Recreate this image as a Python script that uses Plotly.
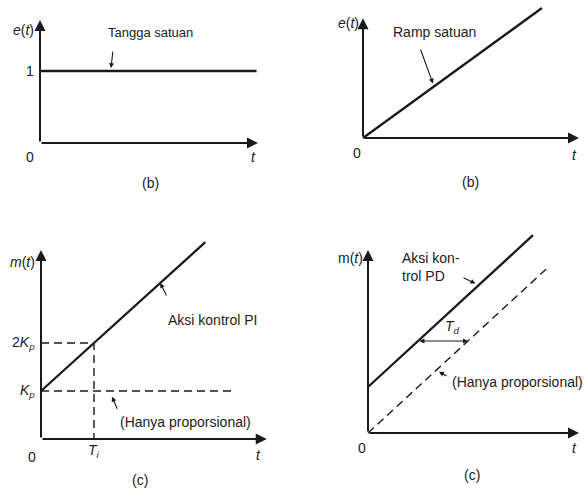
import plotly.graph_objects as go

W, H = 584, 490

# ---- data (Kp = 1, Ti = 1, Td = 1, unit step / unit ramp inputs) ----
step_t = [0, 4.33]
step_e = [1, 1]

ramp_t = [0, 3.58]
ramp_e = [0, 3.58]

pi_t = [0, 3.1]
pi_m = [1, 4.1]
pi_prop_t = [0, 3.6]
pi_prop_m = [1, 1]
ti_guide_t = [0, 1, 1]
ti_guide_m = [2, 2, 0]

pd_prop_t = [0, 3.58]
pd_prop_m = [0, 3.58]
pd_t = [0, 3.3]
pd_m = [1, 4.3]
td_level = 2.0

INK = "#1a1a1a"
TXT = "#222222"
FONT = "Liberation Sans"

# panel layout: pixel box, origin pixel, pixels per unit
panels = {
    1: dict(box=(0, 292, 0, 200), origin=(40, 143), unit=(50, 72)),
    2: dict(box=(292, 584, 0, 200), origin=(363, 138), unit=(50, 36.3)),
    3: dict(box=(0, 292, 200, 490), origin=(41, 439), unit=(53, 48)),
    4: dict(box=(292, 584, 200, 490), origin=(368, 433), unit=(50, 46)),
}

fig = go.Figure()

for k, p in panels.items():
    x0, x1, y0, y1 = p["box"]
    ox, oy = p["origin"]
    ux, uy = p["unit"]
    sfx = "" if k == 1 else str(k)
    fig.update_layout(**{
        "xaxis" + sfx: dict(domain=[x0 / W, x1 / W],
                            range=[(x0 - ox) / ux, (x1 - ox) / ux],
                            visible=False, fixedrange=True,
                            anchor="y" + sfx),
        "yaxis" + sfx: dict(domain=[1 - y1 / H, 1 - y0 / H],
                            range=[(oy - y1) / uy, (oy - y0) / uy],
                            visible=False, fixedrange=True,
                            anchor="x" + sfx),
    })


def ax_ref(k):
    return ("x", "y") if k == 1 else ("x%d" % k, "y%d" % k)


def line(k, t, v, width=2.3, dash=None):
    xr, yr = ax_ref(k)
    fig.add_trace(go.Scatter(x=t, y=v, mode="lines", xaxis=xr, yaxis=yr,
                             line=dict(color=INK, width=width, dash=dash),
                             showlegend=False, hoverinfo="skip",
                             cliponaxis=False))


annotations = []


def text(k, t, v, s, size=14, xanchor="center", yanchor="middle"):
    xr, yr = ax_ref(k)
    annotations.append(dict(x=t, y=v, xref=xr, yref=yr, text=s,
                            showarrow=False, xanchor=xanchor,
                            yanchor=yanchor, align="left",
                            font=dict(family=FONT, size=size, color=TXT)))


def arrow(k, head, tail, width=1.2, head_style=2, size=1.0, start=False):
    xr, yr = ax_ref(k)
    a = dict(x=head[0], y=head[1], ax=tail[0], ay=tail[1],
             xref=xr, yref=yr, axref=xr, ayref=yr, text="",
             showarrow=True, arrowhead=head_style, arrowsize=size,
             arrowwidth=width, arrowcolor=INK)
    if start:
        a.update(arrowside="end+start", startarrowhead=head_style,
                 startarrowsize=size)
    annotations.append(a)


def axes(k, t_end, v_end):
    arrow(k, (t_end, 0), (0, 0), width=2.0, head_style=2, size=1.1)
    arrow(k, (0, v_end), (0, 0), width=2.0, head_style=2, size=1.1)


# ---- (b) unit step ----
axes(1, 4.36, 1.71)
line(1, step_t, step_e)
text(1, -0.08, 1.57, "<i>e</i>(<i>t</i>)", xanchor="right")
text(1, -0.08, 1.0, "1", xanchor="right")
text(1, -0.2, -0.19, "0")
text(1, 4.26, -0.19, "<i>t</i>")
text(1, 2.2, 1.54, "Tangga satuan", 13)
arrow(1, (1.42, 1.04), (1.46, 1.29), width=1.1, size=0.9)
text(1, 2.2, -0.56, "(b)")

# ---- (b) unit ramp ----
axes(2, 4.32, 3.3)
line(2, ramp_t, ramp_e)
text(2, -0.05, 3.17, "<i>e</i>(<i>t</i>)", xanchor="right")
text(2, -0.12, -0.41, "0")
text(2, 4.22, -0.47, "<i>t</i>")
text(2, 1.42, 2.92, "Ramp satuan")
arrow(2, (1.4, 1.5), (1.14, 2.48), width=1.1, size=0.9)
text(2, 2.14, -1.21, "(b)")

# ---- (c) PI action ----
axes(3, 4.26, 3.94)
line(3, pi_prop_t, pi_prop_m, width=1.4, dash="8px,5px")
line(3, ti_guide_t, ti_guide_m, width=1.4, dash="8px,5px")
line(3, pi_t, pi_m)
text(3, -0.07, 3.69, "<i>m</i>(<i>t</i>)", xanchor="right")
text(3, -0.07, 2.0, "2<i>K<sub>p</sub></i>", xanchor="right")
text(3, -0.07, 1.0, "<i>K<sub>p</sub></i>", xanchor="right")
text(3, 1.0, -0.25, "<i>T<sub>i</sub></i>")
text(3, -0.17, -0.37, "0")
text(3, 4.1, -0.33, "<i>t</i>")
text(3, 3.23, 2.48, "Aksi kontrol PI")
arrow(3, (2.25, 3.25), (2.38, 2.96), width=1.1, size=0.9)
text(3, 2.72, 0.35, "(Hanya proporsional)")
arrow(3, (1.34, 0.88), (1.45, 0.6), width=1.1, size=0.9)
text(3, 1.87, -0.86, "(c)")

# ---- (c) PD action ----
axes(4, 4.22, 3.98)
line(4, pd_prop_t, pd_prop_m, width=1.4, dash="8px,5px")
line(4, pd_t, pd_m)
text(4, -0.07, 3.8, "m(<i>t</i>)", xanchor="right")
text(4, 0.64, 3.6, "Aksi kon-<br>trol PD", xanchor="left")
arrow(4, (2.15, 3.25), (1.88, 3.39), width=1.1, size=0.9)
arrow(4, (td_level, td_level), (td_level - 1, td_level), width=1.1,
      size=0.9, start=True)
text(4, 1.68, 2.3, "<i>T<sub>d</sub></i>")
text(4, 1.64, 1.11, "(Hanya proporsional)", xanchor="left")
arrow(4, (1.42, 1.33), (1.6, 1.22), width=1.1, size=0.9)
text(4, -0.12, -0.33, "0")
text(4, 4.12, -0.33, "<i>t</i>")
text(4, 2.08, -0.92, "(c)")

fig.update_layout(width=W, height=H, margin=dict(l=0, r=0, t=0, b=0),
                  paper_bgcolor="white", plot_bgcolor="rgba(0,0,0,0)",
                  showlegend=False, annotations=annotations)

fig.write_html("out.html", config={"displayModeBar": False})
